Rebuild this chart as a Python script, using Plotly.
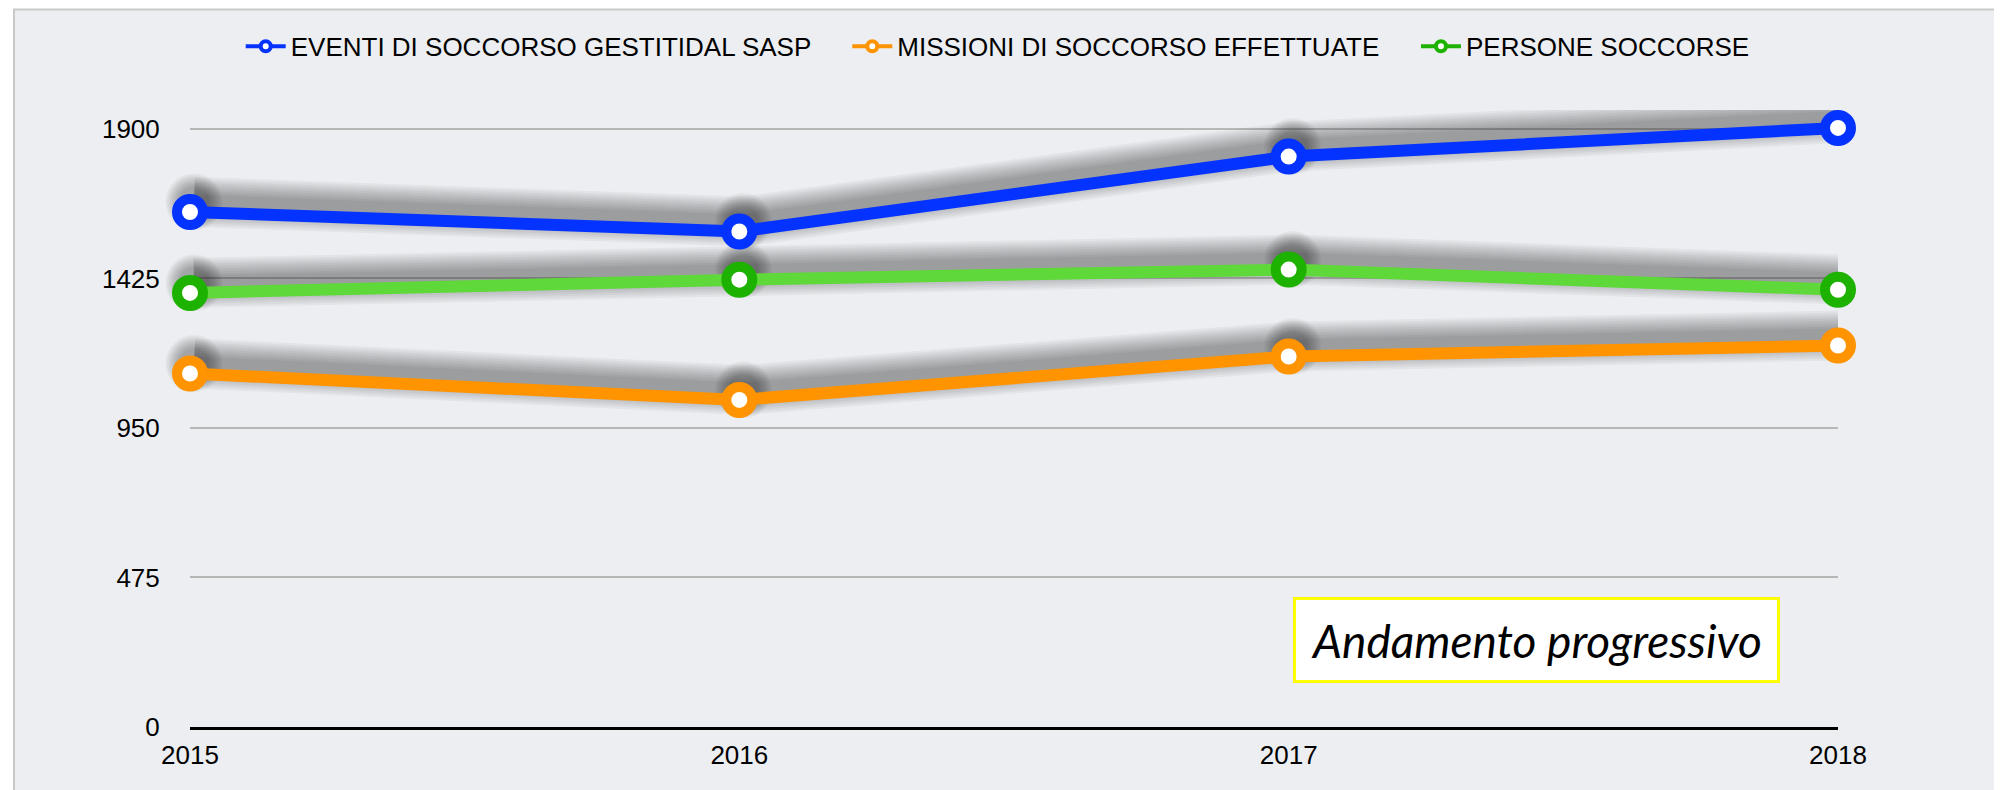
import plotly.graph_objects as go


# Data
years = [2015, 2016, 2017, 2018]
eventi = [1636, 1574, 1812, 1903]
missioni = [1123, 1039, 1177, 1212]
persone = [1379, 1421, 1453, 1389]

series_names = [
    "EVENTI DI SOCCORSO GESTITIDAL SASP",
    "MISSIONI DI SOCCORSO EFFETTUATE",
    "PERSONE SOCCORSE",
]
y_ticks = [0, 475, 950, 1425, 1900]
note_text = "Andamento progressivo"

# styles: (line colour, marker ring colour)
styles = [
    ("#0433ff", "#0433ff"),
    ("#ff9300", "#ff9300"),
    ("#5fd93a", "#1db100"),
]
values = [eventi, missioni, persone]
legend_ids = ["legend", "legend2", "legend3"]
legend_x = [0.1167, 0.4209, 0.7061]

FONT = "Liberation Sans, Arial, Helvetica, sans-serif"
Y_TOP = 1960

fig = go.Figure()

# Soft drop shadow: same series drawn on a hidden axis pair whose ranges are
# shifted a little, so the shadow sits slightly up/right of the real lines
shadow_layers = [(14 + 4 * i, 30 + 3 * i) for i in range(10)]
for vals in values:
    for lw, ms in shadow_layers:
        fig.add_trace(
            go.Scatter(
                x=years,
                y=vals,
                mode="lines+markers",
                line=dict(color="rgba(25,25,30,0.045)", width=lw),
                marker=dict(size=ms, color="rgba(25,25,30,0.04)"),
                showlegend=False,
                hoverinfo="skip",
                cliponaxis=False,
            )
        )

# Real series
for name, vals, (lc, mc) in zip(series_names, values, styles):
    fig.add_trace(
        go.Scatter(
            x=years,
            y=vals,
            xaxis="x2",
            yaxis="y2",
            mode="lines+markers",
            name=name,
            line=dict(color=lc, width=12),
            marker=dict(size=26, color="white", line=dict(color=mc, width=10)),
            showlegend=False,
            cliponaxis=False,
        )
    )

# Legend entries, each in its own legend box so the spacing can follow the reference
for name, (lc, mc), lid in zip(series_names, styles, legend_ids):
    fig.add_trace(
        go.Scatter(
            x=[None],
            y=[None],
            xaxis="x2",
            yaxis="y2",
            mode="lines+markers",
            name=name,
            legend=lid,
            line=dict(color=mc, width=4),
            marker=dict(size=10, color="white", line=dict(color=mc, width=4)),
        )
    )

legend_style = dict(
    orientation="h",
    xref="container",
    yref="container",
    xanchor="left",
    y=0.951,
    yanchor="middle",
    itemwidth=40,
    font=dict(size=26, family=FONT, color="black"),
    bgcolor="rgba(0,0,0,0)",
    borderwidth=0,
    itemclick=False,
)

# Set figure layout
fig.update_layout(
    width=1994,
    height=782,
    margin=dict(l=182, r=164, t=102, b=63),
    paper_bgcolor="white",
    plot_bgcolor="rgba(0,0,0,0)",
    font=dict(family=FONT, size=26, color="black"),
    showlegend=True,
    legend=dict(legend_style, x=legend_x[0]),
    legend2=dict(legend_style, x=legend_x[1]),
    legend3=dict(legend_style, x=legend_x[2]),
    shapes=[
        dict(
            type="rect",
            xref="paper",
            yref="paper",
            x0=-0.1068,
            x1=1.2,
            y0=-0.2,
            y1=1.1628,
            line=dict(color="#c9c9c9", width=2),
            fillcolor="#eceef1",
            layer="below",
        )
    ],
    annotations=[
        dict(
            text=note_text,
            xref="paper",
            yref="paper",
            x=0.817,
            y=0.1411,
            xanchor="center",
            yanchor="middle",
            showarrow=False,
            font=dict(family="Lato, Open Sans, sans-serif", size=46, style="italic", color="black"),
            bgcolor="white",
            bordercolor="#ffff00",
            borderwidth=3,
            borderpad=0,
            width=481,
            height=80,
            align="center",
            valign="middle",
        )
    ],
)

shift_y = 32
shift_x = 0.0073

# hidden axes for the shadow layer
fig.update_layout(
    xaxis=dict(range=[years[0] - shift_x, years[-1] - shift_x], visible=False),
    yaxis=dict(range=[y_ticks[0] - shift_y, Y_TOP - shift_y], visible=False),
    xaxis2=dict(
        overlaying="x",
        anchor="y2",
        side="bottom",
        range=[years[0], years[-1]],
        tickvals=years,
        ticktext=[str(y) for y in years],
        ticks="outside",
        ticklen=3,
        tickcolor="rgba(0,0,0,0)",
        showline=True,
        linecolor="black",
        linewidth=3,
        showgrid=False,
        zeroline=False,
        tickfont=dict(size=26, family=FONT, color="black"),
    ),
    yaxis2=dict(
        overlaying="y",
        anchor="x2",
        side="left",
        range=[y_ticks[0], Y_TOP],
        tickvals=y_ticks,
        ticks="outside",
        ticklen=24,
        tickcolor="rgba(0,0,0,0)",
        showgrid=True,
        gridcolor="#b7b7b7",
        gridwidth=2,
        zeroline=False,
        showline=False,
        tickfont=dict(size=26, family=FONT, color="black"),
    ),
)

fig.write_html("out.html")
